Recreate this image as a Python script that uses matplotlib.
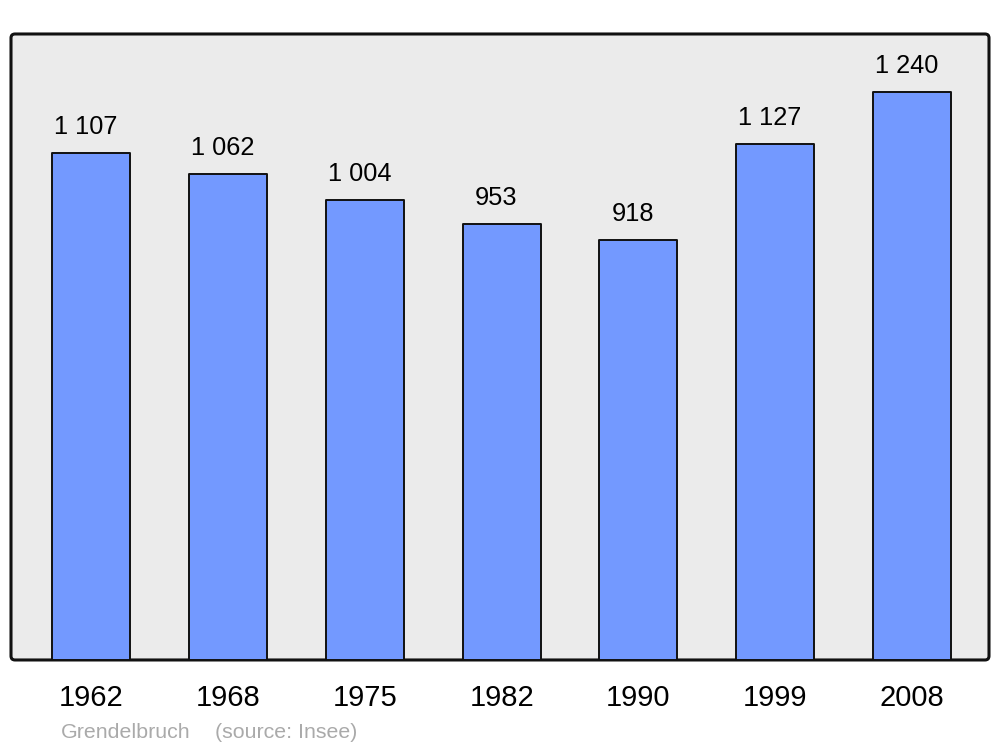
import matplotlib
matplotlib.use("Agg")
import matplotlib.pyplot as plt
from matplotlib.patches import FancyBboxPatch

plt.rcParams['font.family'] = ['Liberation Sans', 'DejaVu Sans']

# population data
years = ['1962', '1968', '1975', '1982', '1990', '1999', '2008']
population = [1107, 1062, 1004, 953, 918, 1127, 1240]
value_labels = ['1 107', '1 062', '1 004', '953', '918', '1 127', '1 240']
commune = 'Grendelbruch'
source = '(source: Insee)'

fig = plt.figure(figsize=(10, 7.47), dpi=100)
ax = fig.add_axes([0.011, 0.1165, 0.978, 0.838])
ax.set_facecolor('none')
ax.set_zorder(2)

# background box with rounded corners
frame = FancyBboxPatch((0.011, 0.1165), 0.978, 0.838,
                       boxstyle='round,pad=0,rounding_size=0.004',
                       mutation_aspect=1000 / 747,
                       transform=fig.transFigure, facecolor='#ebebeb',
                       edgecolor='#111111', linewidth=2.2, zorder=-5)
fig.patches.append(frame)

x = list(range(len(years)))
bars = ax.bar(x, population, width=0.57, color='#7399ff',
              edgecolor='#111111', linewidth=1.4, zorder=2)
for b in bars:
    b.set_joinstyle('round')

for xi, v, lab in zip(x, population, value_labels):
    ax.annotate(lab, (xi, v), xytext=(-4, 10), textcoords='offset points',
                ha='center', va='bottom', fontsize=18.3, color='black')

ax.set_xlim(-0.588, 6.563)
ax.set_ylim(0, 1367)
ax.set_xticks(x)
ax.set_xticklabels(years, fontsize=21)
ax.tick_params(axis='x', length=0, pad=17)
ax.set_yticks([])
for s in ax.spines.values():
    s.set_visible(False)

fig.text(0.061, 0.012, commune, fontsize=15.4, color='#aaaaaa')
fig.text(0.215, 0.012, source, fontsize=15.4, color='#aaaaaa')

fig.savefig('out.png', dpi=100)
